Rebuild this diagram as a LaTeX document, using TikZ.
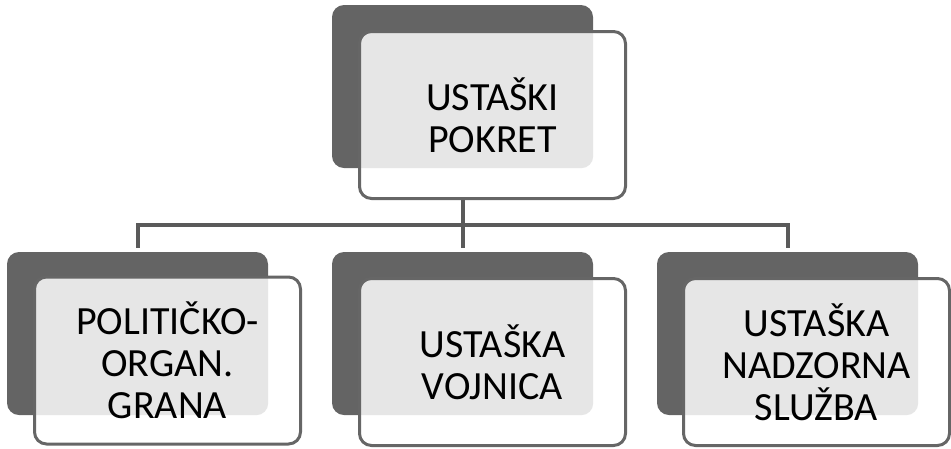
\documentclass[tikz,border=0pt]{standalone}
\usepackage{fontspec}
\setmainfont{Carlito}
\definecolor{backgray}{HTML}{646464}
\definecolor{bordergray}{HTML}{666666}
\definecolor{conngray}{HTML}{5A5A5A}
\definecolor{overlapfill}{HTML}{E6E6E6}
\tikzset{
  backbox/.style={rectangle, rounded corners=12pt, fill=backgray, minimum width=261pt, minimum height=163pt, inner sep=0pt},
  frontbox/.style={rectangle, rounded corners=12pt, fill=white, draw=bordergray, line width=3pt,
    minimum width=266pt, minimum height=167pt, inner sep=0pt, align=center, text=black,
    font=\fontsize{40}{42}\selectfont,
    path picture={\fill[overlapfill, rounded corners=12pt] (#1.south west) rectangle (#1.north east);}},
  conn/.style={draw=conngray, line width=4pt}
}
\begin{document}
\begin{tikzpicture}[x=1pt, y=-1pt]
\useasboundingbox (0,0) rectangle (951,448);
% back boxes
\node[backbox] (bk0) at (462.5,86.5) {};
\node[backbox] (bk1) at (137.5,333.5) {};
\node[backbox] (bk2) at (462.5,333.5) {};
\node[backbox] (bk3) at (787.5,333.5) {};
\coordinate (bar) at (462.5,225);
% connectors
\draw[conn] (bk0.south) -- (bk0.south |- bar);
\draw[conn, shorten <=4pt, shorten >=4pt] (bk1.north) -- (bk1.north |- bar) -- (bk3.north |- bar) -- (bk3.north);
\draw[conn, shorten >=4pt] (bk2.north |- bar) -- (bk2.north);
% front boxes
\node[frontbox=bk0] (f0) at (492.5,115) {USTAŠKI\\POKRET};
\node[frontbox=bk1] (f1) at (167.5,360.5) {POLITIČKO-\\ORGAN.\\GRANA};
\node[frontbox=bk2] (f2) at (492.5,362) {USTAŠKA\\VOJNICA};
\node[frontbox=bk3] (f3) at (816.5,362) {USTAŠKA\\NADZORNA\\SLUŽBA};
\end{tikzpicture}
\end{document}
